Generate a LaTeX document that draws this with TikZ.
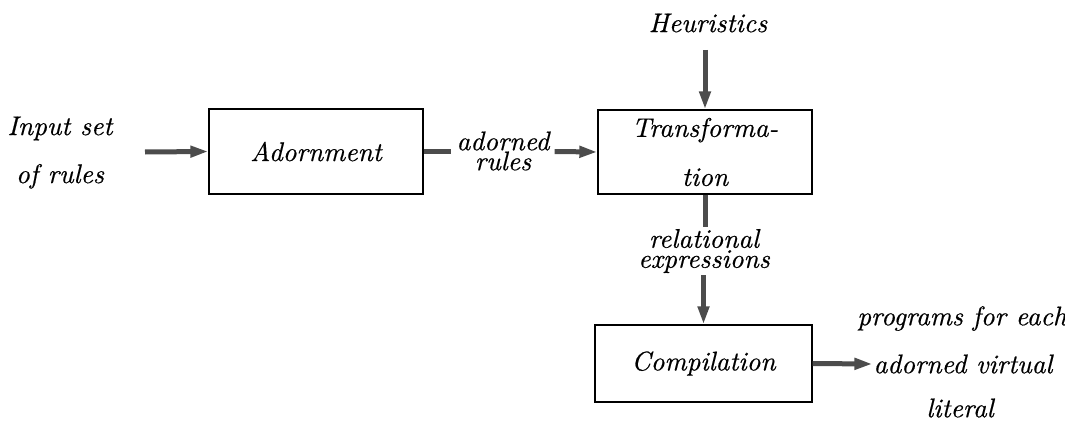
\documentclass[tikz,border=0pt]{standalone}
\usepackage{fontspec}
% 10pt design size of Latin Modern, scaled up
\setmainfont{lmroman10-regular}[Extension=.otf, ItalicFont=lmroman10-italic,
  ItalicFeatures={FakeBold=0.5}]
\usetikzlibrary{arrows.meta}
\begin{document}
\begin{tikzpicture}[x=1pt,y=-1pt,
  txt/.style={font=\fontsize{27}{20}\selectfont\itshape, inner sep=3pt, align=center},
  stagebox/.style={txt, draw, line width=1.4pt, inner sep=0pt},
  flow/.style={line width=5pt, draw=black!70},
  flowarrow/.style={flow, -{Triangle[length=18pt,width=11pt]}}]
  \useasboundingbox (0,0) rectangle (1065,425);

  % processing stages
  \node[stagebox, minimum width=214pt, minimum height=85pt] (adorn) at (316,151.5) {Adornment};
  \node[stagebox, minimum width=214pt, minimum height=84pt,
        font=\fontsize{27}{49}\selectfont\itshape] (trans) at (705,152)
        {Transforma-\\tion};
  \node[stagebox, minimum width=217pt, minimum height=77pt] (comp) at (703.5,363.5) {Compilation};

  % inputs and intermediate results
  \node[txt, font=\fontsize{27}{48}\selectfont\itshape] (inp) at (60,152.6) {Input set\\of rules};
  \coordinate (inStart) at (145,152);
  \node[txt] (heur) at (708,23) {Heuristics};
  \node[txt, inner sep=5pt] (lbl) at (503,151) {adorned\\rules};
  \node[txt, inner sep=2pt] (rel) at (704,251) {relational\\expressions};

  % output
  \node[txt, inner sep=1pt] (adv) at (963,364) {adorned virtual};
  \node[txt] (prog) at (962,318.5) {programs for each};
  \node[txt] (lit) at (960,408) {literal};

  % connectors
  \draw[flowarrow] (inStart) -- (adorn.west);
  \draw[flow] (adorn.east) -- (adorn.east -| lbl.west);
  \draw[flowarrow] (adorn.east -| lbl.east) -- (trans.west);
  \draw[flowarrow] (trans.north |- 0,50) -- (trans.north);
  \draw[flow] (trans.south) -- (trans.south |- rel.north);
  \draw[flowarrow] (comp.north |- rel.south) -- (comp.north);
  \draw[flowarrow] (comp.east) -- (adv.west);
\end{tikzpicture}
\end{document}
